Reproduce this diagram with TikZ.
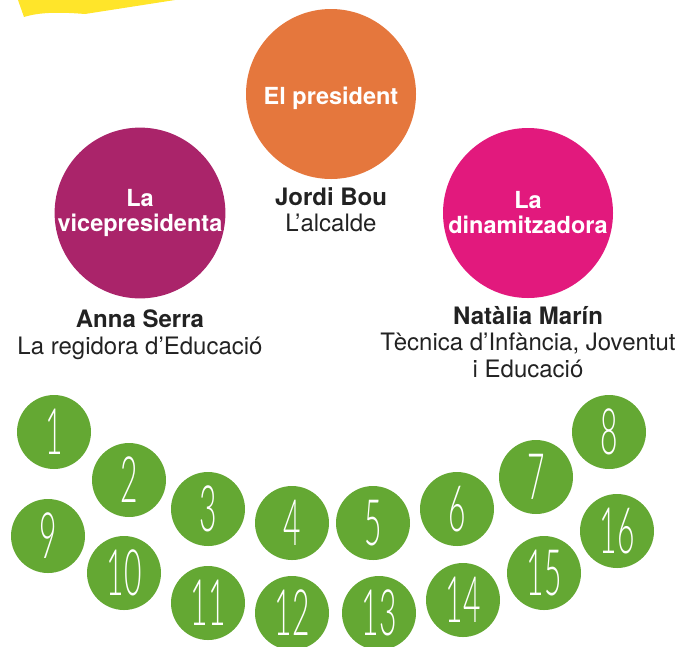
\documentclass[tikz,border=0pt]{standalone}
\usepackage{graphicx}
\usepackage{fontspec}
\setmainfont{TeX Gyre Heros}
\newfontfamily\numfont{Lato Light}
\definecolor{cyellow}{HTML}{FFE52A}
\definecolor{corange}{HTML}{E5773D}
\definecolor{cpurple}{HTML}{AA246A}
\definecolor{cpink}{HTML}{E2197D}
\definecolor{cgreen}{HTML}{64A833}
\definecolor{ctext}{HTML}{222222}
\tikzset{
  role/.style={circle, fill=#1, minimum size=170pt, inner sep=0pt, text=white, align=center,
    font=\bfseries\fontsize{23.5}{25}\selectfont},
  person/.style={align=center, text=ctext, inner sep=0pt, font=\fontsize{24}{26.5}\selectfont},
  seat/.style={circle, fill=cgreen, minimum size=74pt, inner sep=0pt, text=white,
    font=\numfont\fontsize{64}{64}\selectfont},
}
\newcommand{\seatnum}[1]{\scalebox{0.47}[1]{#1}}
\begin{document}
\begin{tikzpicture}[x=1pt,y=-1pt]
\useasboundingbox (0,0) rectangle (679,646);
\fill[cyellow] (18,0) -- (24,17) .. controls (40,12) and (60,12) .. (85,14) -- (175,0) -- cycle;
\node[role=corange, text height=22pt, text depth=2pt] (pres) at (331,94) {El president};
\node[role=cpurple] (vice) at (140,213) {La\\vicepresidenta};
\node[role=cpink] (dina) at (528,213) {La\\dinamitzadora};
\node[person, anchor=north] (jordi) at (331,187) {\textbf{Jordi Bou}\\L’alcalde};
\node[person, anchor=north] (anna) at (140,310) {\textbf{Anna Serra}\\La regidora d’Educació};
\node[person, anchor=north] (natalia) at (528,306) {\textbf{Natàlia Marín}\\Tècnica d’Infància, Joventut\\i Educació};
\node[seat] (s1) at (54,432) {\seatnum{1}};
\node[seat] (s2) at (129,480) {\seatnum{2}};
\node[seat] (s3) at (208,509) {\seatnum{3}};
\node[seat] (s4) at (292,523) {\seatnum{4}};
\node[seat] (s5) at (373,523) {\seatnum{5}};
\node[seat] (s6) at (457,509) {\seatnum{6}};
\node[seat] (s7) at (536,477) {\seatnum{7}};
\node[seat] (s8) at (609,432) {\seatnum{8}};
\node[seat] (s9) at (48,536) {\seatnum{9}};
\node[seat] (s10) at (124,573) {\seatnum{10}};
\node[seat] (s11) at (208,603) {\seatnum{11}};
\node[seat] (s12) at (292,613) {\seatnum{12}};
\node[seat] (s13) at (379,613) {\seatnum{13}};
\node[seat] (s14) at (463,600) {\seatnum{14}};
\node[seat] (s15) at (544,573) {\seatnum{15}};
\node[seat] (s16) at (617,531) {\seatnum{16}};
\end{tikzpicture}
\end{document}
